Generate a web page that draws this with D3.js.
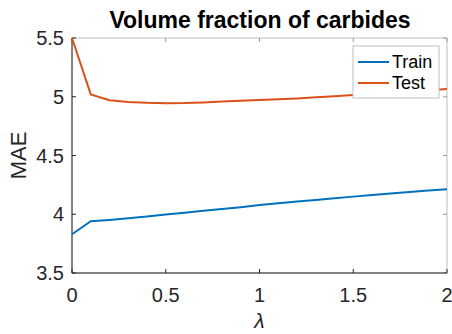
<!DOCTYPE html>
<html>
<head>
<meta charset="utf-8">
<script src="https://cdn.jsdelivr.net/npm/d3@7"></script>
<style>
  body { margin: 0; background: #fff; }
  text { font-family: "Liberation Sans", Arial, sans-serif; }
</style>
</head>
<body>
<div id="chart"></div>
<script>
// lambda values and MAE
const lambdas = [0, 0.1, 0.2, 0.3, 0.4, 0.5, 0.6, 0.7, 0.8, 0.9, 1.0,
                 1.1, 1.2, 1.3, 1.4, 1.5, 1.6, 1.7, 1.8, 1.9, 2.0];
const trainMAE = [3.83, 3.94, 3.952, 3.965, 3.98, 3.997, 4.013, 4.03, 4.045, 4.06, 4.078,
                  4.093, 4.108, 4.122, 4.136, 4.15, 4.163, 4.176, 4.19, 4.202, 4.213];
const testMAE = [5.5, 5.02, 4.97, 4.955, 4.948, 4.945, 4.946, 4.952, 4.96, 4.967, 4.973,
                 4.978, 4.985, 4.995, 5.005, 5.015, 5.025, 5.035, 5.045, 5.055, 5.065];
const xTicks = [0, 0.5, 1, 1.5, 2];
const yTicks = [3.5, 4, 4.5, 5, 5.5];
const seriesNames = ["Train", "Test"];
const colors = ["#0072BD", "#D95319"];

const W = 452, H = 334;
const margin = { top: 38, right: 5, bottom: 61, left: 72 };
const width = W - margin.left - margin.right;
const height = H - margin.top - margin.bottom;

const svg = d3.select("#chart").append("svg")
    .attr("width", W)
    .attr("height", H);

const g = svg.append("g")
    .attr("transform", `translate(${margin.left},${margin.top})`);

const x = d3.scaleLinear().domain([0, 2]).range([0, width]);
const y = d3.scaleLinear().domain([3.5, 5.5]).range([height, 0]);

// box
g.append("rect")
    .attr("width", width)
    .attr("height", height)
    .attr("fill", "none")
    .attr("stroke", "#bfbfbf")
    .attr("stroke-width", 1);

// ticks inside on all sides
const tickLen = 4;
const ticks = g.append("g").attr("stroke", "#262626").attr("stroke-width", 1);
xTicks.forEach(t => {
    ticks.append("line").attr("x1", x(t)).attr("x2", x(t)).attr("y1", height).attr("y2", height - tickLen);
    ticks.append("line").attr("x1", x(t)).attr("x2", x(t)).attr("y1", 0).attr("y2", tickLen).attr("stroke", "#999");
});
yTicks.forEach(t => {
    ticks.append("line").attr("x1", 0).attr("x2", tickLen).attr("y1", y(t)).attr("y2", y(t));
    ticks.append("line").attr("x1", width).attr("x2", width - tickLen).attr("y1", y(t)).attr("y2", y(t)).attr("stroke", "#999");
});

// left and bottom axis lines darker
g.append("line").attr("x1", 0).attr("x2", 0).attr("y1", 0).attr("y2", height)
    .attr("stroke", "#262626");
g.append("line").attr("x1", 0).attr("x2", width).attr("y1", height).attr("y2", height)
    .attr("stroke", "#262626");

// tick labels
g.selectAll(".xlab").data(xTicks).enter().append("text")
    .attr("x", d => x(d))
    .attr("y", height + 29)
    .attr("text-anchor", "middle")
    .style("font-size", "20px")
    .style("fill", "#262626")
    .text(d => d);

g.selectAll(".ylab").data(yTicks).enter().append("text")
    .attr("x", -8)
    .attr("y", d => y(d))
    .attr("dy", "0.35em")
    .attr("text-anchor", "end")
    .style("font-size", "20px")
    .style("fill", "#262626")
    .text(d => d);

// axis titles
g.append("text")
    .attr("x", x(1))
    .attr("y", height + 55)
    .attr("text-anchor", "middle")
    .style("font-size", "21px")
    .style("font-style", "italic")
    .style("fill", "#262626")
    .text("λ");

g.append("text")
    .attr("transform", `translate(-46,${height / 2}) rotate(-90)`)
    .attr("text-anchor", "middle")
    .style("font-size", "22px")
    .style("fill", "#262626")
    .text("MAE");

// title
svg.append("text")
    .attr("x", 260)
    .attr("y", 28)
    .attr("text-anchor", "middle")
    .style("font-size", "23px")
    .style("font-weight", "bold")
    .style("fill", "#000")
    .text("Volume fraction of carbides");

// lines
const series = [trainMAE, testMAE];
const line = d3.line()
    .x((d, i) => x(lambdas[i]))
    .y(d => y(d));

g.selectAll(".series").data(series).enter().append("path")
    .attr("d", line)
    .attr("fill", "none")
    .attr("stroke", (d, i) => colors[i])
    .attr("stroke-width", 2);

// legend
const legend = svg.append("g").attr("transform", "translate(353,46)");
legend.append("rect")
    .attr("width", 86)
    .attr("height", 52)
    .attr("fill", "#fff")
    .attr("stroke", "#bfbfbf");
seriesNames.forEach((name, i) => {
    const ly = 16 + i * 21;
    legend.append("line")
        .attr("x1", 5).attr("x2", 36)
        .attr("y1", ly).attr("y2", ly)
        .attr("stroke", colors[i])
        .attr("stroke-width", 2);
    legend.append("text")
        .attr("x", 39)
        .attr("y", ly)
        .attr("dy", "0.35em")
        .style("font-size", "18px")
        .style("fill", "#000")
        .text(name);
});
</script>
</body>
</html>
